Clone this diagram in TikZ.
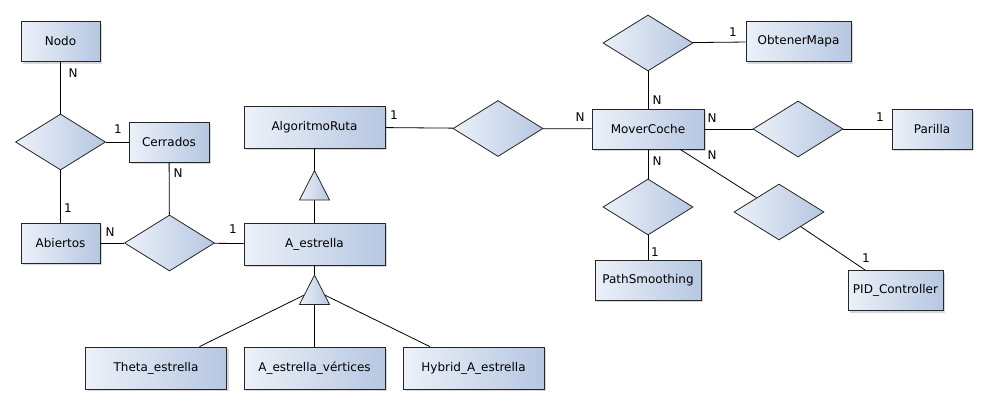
\documentclass[tikz,border=0pt]{standalone}
\usepackage{fontspec}
\setmainfont{DejaVu Sans}
\usepackage{tikz}
\usetikzlibrary{calc,shapes.geometric,shadows,backgrounds}
\definecolor{boxlight}{RGB}{236,241,249}
\definecolor{boxdark}{RGB}{182,199,225}
\newcommand{\erfont}{\fontsize{12}{14}\selectfont}
\newcommand{\trihalf}{15}

\begin{document}
\begin{tikzpicture}[x=1pt, y=-1pt,
    entity/.style = {draw=black!85, line width=0.8pt, left color=boxlight, right color=boxdark,
                     minimum height=40pt, inner sep=0pt, font=\erfont,
                     drop shadow={shadow xshift=2pt, shadow yshift=-2pt, opacity=0.3}},
    relation/.style = {diamond, draw=black!85, line width=0.8pt, left color=boxlight, right color=boxdark,
                       minimum width=90pt, minimum height=56pt, inner sep=0pt},
    link/.style = {draw=black, line width=0.8pt},
    gen/.style = {draw=black!85, line width=0.8pt, left color=boxlight, right color=boxdark},
    mult/.style = {font=\erfont, inner sep=0pt}
]
    \useasboundingbox[fill=white] (0,0) rectangle (987,405);

    % entities
    \foreach \nm/\x/\y/\w/\txt in {nodo/60.5/41.5/79/Nodo, cerr/169/142/80/Cerrados, abie/60.5/243/79/Abiertos,
                                   obten/798.5/41.5/105/ObtenerMapa, mover/648/129/112/MoverCoche,
                                   parilla/932/129/80/Parilla, path/648/280/106/PathSmoothing,
                                   pid/895.5/290.5/95/PID\_Controller} {
        \node[entity, minimum width=\w pt] (\nm) at (\x,\y) {\txt};
    }
    \foreach \nm/\x/\y/\txt in {algo/314.5/127/AlgoritmoRuta, aest/314.5/244/A\_estrella,
                                theta/156/368/Theta\_estrella, vert/314.5/368/A\_estrella\_vértices,
                                hybrid/473.5/368/Hybrid\_A\_estrella} {
        \node[entity, minimum width=141pt, minimum height=42pt] (\nm) at (\x,\y) {\txt};
    }

    % relations
    \foreach \nm/\x/\y in {r1/60.5/142, r2/169.5/243, r3/498/128.5, r4/648/43,
                           r5/798/129, r6/648/207, r7/779/212} {
        \node[relation] (\nm) at (\x,\y) {};
    }

    \foreach \a/\b in {nodo/r1, r1/cerr, r1/abie, cerr/r2, abie/r2, r2/aest, algo/r3, r3/mover,
                       r4/mover, r4/obten, mover/r5, r5/parilla, mover/r6, r6/path, mover/r7, r7/pid} {
        \draw[link] (\a) -- (\b);
    }

    %Generalisation triangles
    \coordinate (g1) at (314.5,185.5);
    \coordinate (g2) at (314.5,290);
    \draw[link] (algo) -- (g1) -- (aest);
    \foreach \b in {aest,theta,vert,hybrid} {
        \draw[link] (g2) -- (\b);
    }
    \foreach \g in {g1,g2} {
        \draw[gen] ($(\g)+(0,-\trihalf)$) -- ($(\g)+(\trihalf,14.5)$) -- ($(\g)+(-\trihalf,14.5)$) -- cycle;
    }

    % multiplicities
    \foreach \i/\x/\y/\t in {1/73/73/N, 2/118/129/1, 3/68/208/1, 4/178/173/N, 5/110/232/N, 6/233/229/1,
                             7/394/115/1, 8/580/117/N, 9/657/100/N, 10/733/32/1, 11/712/118/N,
                             12/880/117/1, 13/657/161/N, 14/712/155/N, 15/655/252/1, 16/866/258/1} {
        \node[mult] (m\i) at (\x,\y) {\t};
    }
\end{tikzpicture}
\end{document}
